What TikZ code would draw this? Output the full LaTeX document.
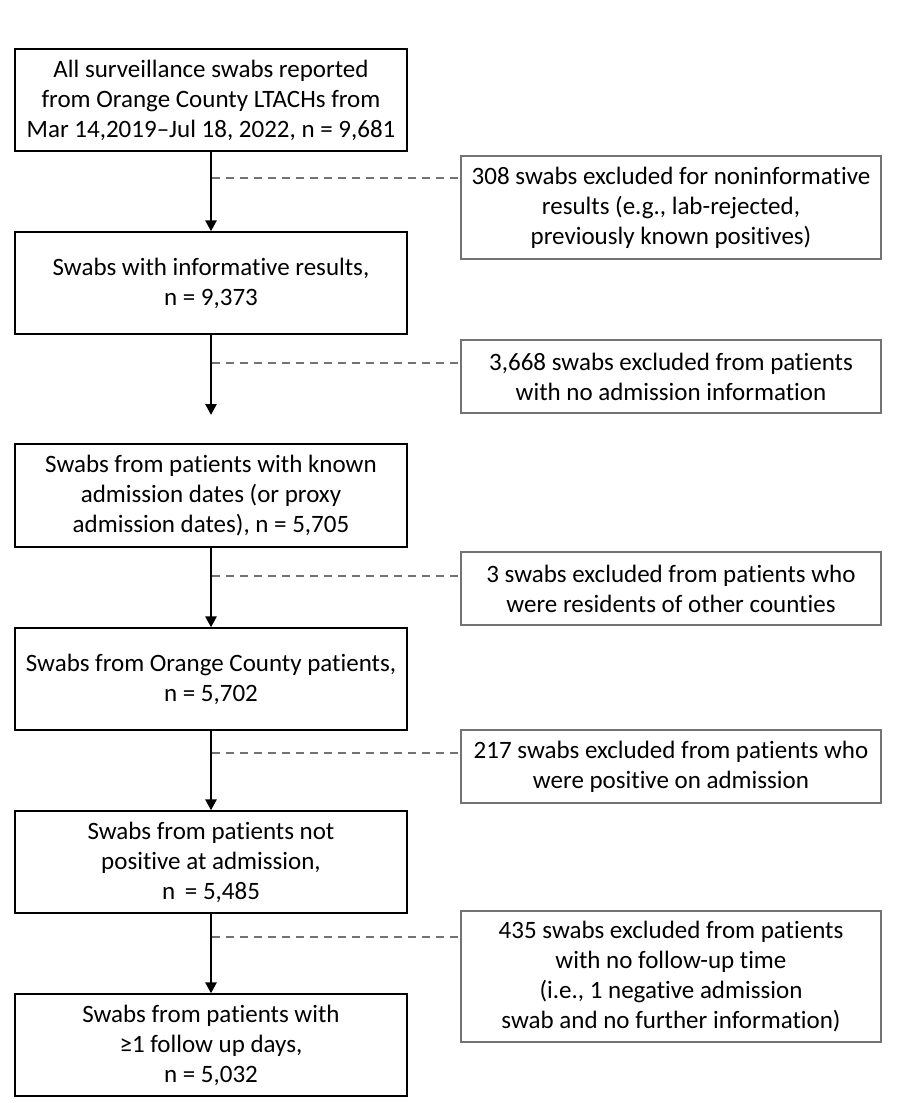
\documentclass[tikz,border=0pt]{standalone}
\usepackage{fontspec}
\setmainfont[Ligatures={NoCommon}]{Carlito}
\usetikzlibrary{arrows.meta}
\begin{document}
\begin{tikzpicture}[x=1pt,y=-1pt,
  lbox/.style={draw=black,line width=1.3pt,minimum width=392pt,align=center,inner sep=0pt,font=\fontsize{25}{30}\selectfont},
  rbox/.style={draw=black!55,line width=1.4pt,minimum width=420pt,align=center,inner sep=0pt,font=\fontsize{25}{30}\selectfont},
  flow/.style={line width=2.6pt,-{Triangle[length=11pt,width=11pt]}},
  excl/.style={draw=black!55,line width=1.4pt,dash pattern=on 8pt off 6pt}]
\useasboundingbox[fill=white] (0,0) rectangle (900,1103);
\node[lbox,minimum height=102pt] (b1) at (211,100) {All surveillance swabs reported\\from Orange County LTACHs from\\Mar 14,2019–Jul 18, 2022, n = 9,681};
\node[lbox,minimum height=102pt] (b2) at (211,283) {Swabs with informative results,\\n = 9,373};
\node[lbox,minimum height=103pt] (b3) at (211,495.5) {Swabs from patients with known\\admission dates (or proxy\\admission dates), n = 5,705};
\node[lbox,minimum height=102pt] (b4) at (211,679) {Swabs from Orange County patients,\\n = 5,702};
\node[lbox,minimum height=102pt] (b5) at (211,862) {Swabs from patients not\\positive at admission,\\n \,= 5,485};
\node[lbox,minimum height=102pt] (b6) at (211,1045) {Swabs from patients with\\≥1 follow up days,\\n = 5,032};
\node[rbox,minimum height=103pt] (r1) at (671,207.5) {308 swabs excluded for noninformative\\results (e.g., lab-rejected,\\previously known positives)};
\node[rbox,minimum height=73pt] (r2) at (671,376.5) {3,668 swabs excluded from patients\\with no admission information};
\node[rbox,minimum height=73pt] (r3) at (671,588.5) {3 swabs excluded from patients who\\were residents of other counties};
\node[rbox,minimum height=73pt] (r4) at (671,766.5) {217 swabs excluded from patients who\\were positive on admission};
\node[rbox,minimum height=131pt] (r5) at (671,976.5) {435 swabs excluded from patients\\with no follow-up time\\(i.e., 1 negative admission\\swab and no further information)};
\coordinate (e2) at (211,415);
\draw[flow] (b1.south) -- (b2.north);
\draw[flow] (b2.south) -- (e2);
\draw[flow] (b3.south) -- (b4.north);
\draw[flow] (b4.south) -- (b5.north);
\draw[flow] (b5.south) -- (b6.north);
\draw[excl] (212,178) -- (r1.west |- 0,178);
\draw[excl] (212,363) -- (r2.west |- 0,363);
\draw[excl] (212,576) -- (r3.west |- 0,576);
\draw[excl] (212,753) -- (r4.west |- 0,753);
\draw[excl] (212,937) -- (r5.west |- 0,937);
\end{tikzpicture}
\end{document}
